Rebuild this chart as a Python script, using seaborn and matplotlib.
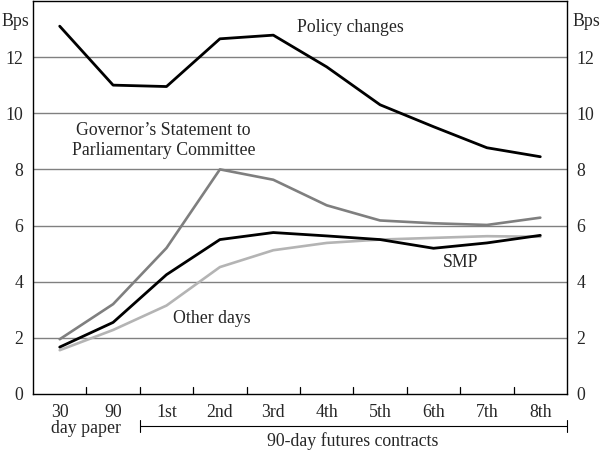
import matplotlib
matplotlib.use("Agg")
import matplotlib.pyplot as plt
import seaborn as sns
import pandas as pd

categories = ["30", "90", "1st", "2nd", "3rd", "4th", "5th", "6th", "7th", "8th"]
policy_changes = [13.1, 11.0, 10.95, 12.65, 12.78, 11.65, 10.3, 9.52, 8.77, 8.45]
governor = [1.95, 3.2, 5.2, 8.0, 7.63, 6.72, 6.18, 6.08, 6.02, 6.28]
smp = [1.67, 2.55, 4.25, 5.5, 5.75, 5.63, 5.5, 5.19, 5.38, 5.65]
other_days = [1.56, 2.28, 3.15, 4.52, 5.12, 5.38, 5.5, 5.56, 5.62, 5.6]
yticks = [0, 2, 4, 6, 8, 10, 12]

sns.set_style("white")
plt.rcParams["font.family"] = ["Liberation Serif", "DejaVu Serif"]
FS = 12.8

fig = plt.figure(figsize=(6, 4.51), dpi=100)
ax = fig.add_axes([0.055, 0.1264, 0.89, 0.8716])

pos = list(range(len(categories)))
series = [
    ("Policy changes", policy_changes, "#000000", 2.0),
    ("Governor", governor, "#7f7f7f", 1.9),
    ("Other days", other_days, "#b4b4b4", 1.9),
    ("SMP", smp, "#000000", 2.0),
]
for name, vals, col, lw in series:
    df = pd.DataFrame({"x": pos, "y": vals})
    sns.lineplot(data=df, x="x", y="y", color=col, linewidth=lw, ax=ax, legend=False)

ax.set_xlim(-0.5, 9.5)
ax.set_ylim(0, 14)
ax.set_xlabel("")
ax.set_ylabel("")
for y in yticks[1:]:
    ax.axhline(y, color="#808080", linewidth=1.0, zorder=0)

ax.set_yticks(yticks)
ax.set_yticklabels([str(t) for t in yticks], fontsize=FS)
ax.tick_params(axis="y", length=0, pad=7, labelright=True, right=False, left=False)
ax.set_xticks(pos)
ax.set_xticklabels(categories, fontsize=FS)
ax.tick_params(axis="x", length=0, pad=7)
for b in [p + 0.5 for p in pos[:-1]]:
    ax.plot([b, b], [0, 0.25], color="black", linewidth=0.9, clip_on=False)

for s in ax.spines.values():
    s.set_color("black")
    s.set_linewidth(1.0)

ax.text(1 / 600, 1 - 21 / 451, "Bps", transform=fig.transFigure, ha="left", va="center", fontsize=FS)
ax.text(572 / 600, 1 - 21 / 451, "Bps", transform=fig.transFigure, ha="left", va="center", fontsize=FS)

ax.text(5.45, 13.05, "Policy changes", ha="center", va="center", fontsize=FS)
ax.text(1.94, 9.02, "Governor\u2019s Statement to\nParliamentary Committee",
        ha="center", va="center", fontsize=FS, linespacing=1.25)
ax.text(7.5, 4.7, "SMP", ha="center", va="center", fontsize=FS)
ax.text(2.85, 2.68, "Other days", ha="center", va="center", fontsize=FS)

# bottom annotations
tr = ax.get_xaxis_transform()
ax.text(0.5, -0.087, "day paper", transform=tr, ha="center", va="center", fontsize=FS)
ax.plot([1.5, 9.5], [-0.0815, -0.0815], transform=tr, color="black", linewidth=0.8, clip_on=False)
for xb in [1.5, 9.5]:
    ax.plot([xb, xb], [-0.066, -0.097], transform=tr, color="black", linewidth=0.8, clip_on=False)
ax.text(5.48, -0.12, "90-day futures contracts", transform=tr, ha="center", va="center", fontsize=FS)

fig.savefig("out.png", dpi=100)
